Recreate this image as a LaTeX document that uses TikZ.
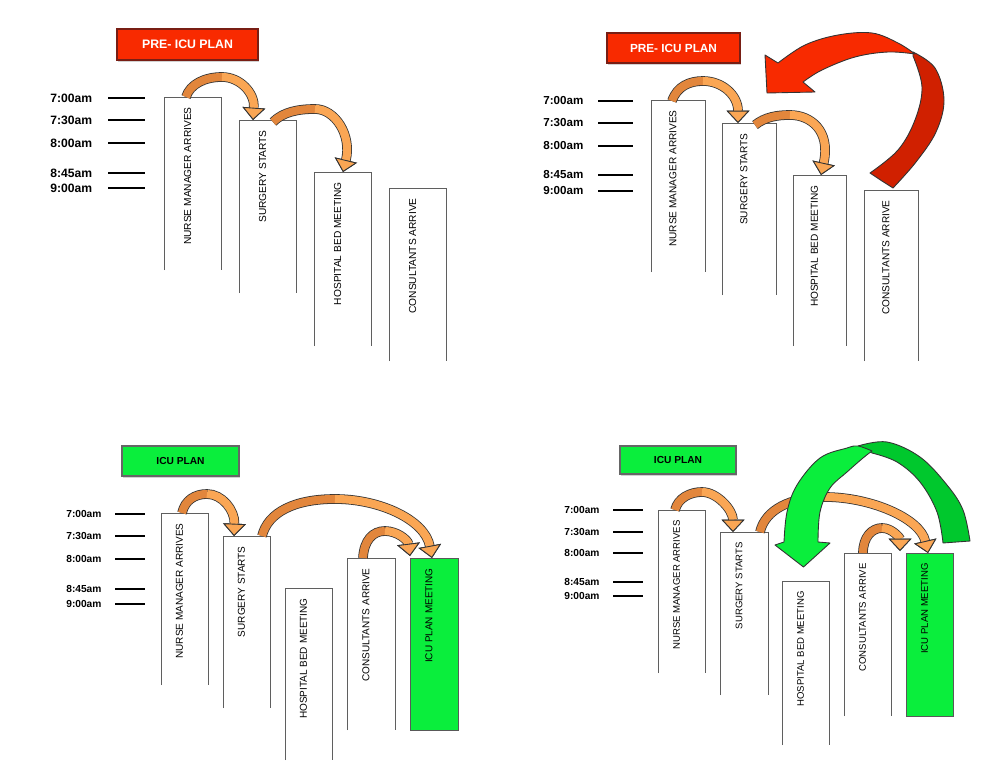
\documentclass[tikz,border=0pt]{standalone}
\usepackage{fontspec}
\setmainfont{Liberation Sans}
\usetikzlibrary{arrows.meta,calc,shadows}
\definecolor{ttred}{RGB}{248,42,0}
\definecolor{ttredborder}{RGB}{120,30,20}
\definecolor{rback}{RGB}{208,32,0}
\definecolor{icugreen}{RGB}{10,238,60}
\definecolor{gback}{RGB}{0,200,45}
\definecolor{oDark}{RGB}{226,134,60}
\definecolor{oLight}{RGB}{250,166,84}
\definecolor{colEdge}{RGB}{95,95,95}

% column: name, x, y, w, h, label
\newcommand\colbox[6]{%
  \node[colnode, minimum width=#4*0.02cm, minimum height=#5*0.02cm, anchor=north west] (#1) at (#2,#3) {};
  \draw[coledge] (#1.south west) -- (#1.north west) -- (#1.north east) -- (#1.south east);
  \node[collbl, rotate=90, anchor=east] (#1-t) at ($(#1.north)+(-5,10)$) {#6};
}
% green column: name, x, y, w, h, label
\newcommand\greenbox[6]{%
  \node[colnode, fill=icugreen, draw=black!65, line width=0.5pt, minimum width=#4*0.02cm, minimum height=#5*0.02cm, anchor=north west] (#1) at (#2,#3) {};
  \node[collbl, rotate=90, anchor=east] (#1-t) at ($(#1.north)+(-5,10)$) {#6};
}
% time mark: name, xlabel, x1, x2, y, text
\newcommand\tmark[6]{%
  \node[tlbl] (#1) at (#2,#5) {#6};
  \draw[tick] (#3,#5) -- (#4,#5);
}
% orange ribbon arrow: S, c1, c2, A, c3, c4, E
\newcommand\oarrow[7]{%
  \draw[oout] #1 .. controls #2 and #3 .. #4 .. controls #5 and #6 .. #7;
  \draw[odk] #1 .. controls #2 and #3 .. #4;
  \draw[olt] #4 .. controls #5 and #6 .. #7;
}

\begin{document}
\begin{tikzpicture}[x=0.02cm, y=-0.02cm,
  colnode/.style={rectangle, inner sep=0pt, outer sep=0pt},
  coledge/.style={draw=colEdge, line width=0.55pt},
  collbl/.style={inner sep=0pt, text=black},
  tlbl/.style={anchor=west, inner sep=0pt, font=\bfseries},
  tick/.style={draw=black, line width=1.1pt},
  titleR/.style={rectangle, fill=ttred, draw=ttredborder, line width=0.8pt, text=white, inner sep=0pt,
     drop shadow={shadow xshift=0.7pt, shadow yshift=-0.9pt, opacity=0.35}},
  titleG/.style={rectangle, fill=icugreen, draw=black!60, line width=0.8pt, text=black, inner sep=0pt,
     drop shadow={shadow xshift=0.7pt, shadow yshift=-0.9pt, opacity=0.35}},
  oout/.style={draw=black!80, line width=5.5pt, -{Triangle[length=7pt,width=13pt,line width=0.5pt]}},
  odk/.style={draw=oDark, line width=4.6pt},
  olt/.style={draw=oLight, line width=4.6pt, -{Triangle[length=7pt,width=13pt,line width=0.5pt,color=black!80,fill=oLight]}},
  rib/.style={draw=black!80, line width=0.5pt, line join=round}
]
\useasboundingbox (0,0) rectangle (997,777);
\fill[white] (0,0) rectangle (997,777);

% ================= PANEL 1 =================
\begin{scope}[collbl/.append style={font=\fontsize{5.8}{6}\selectfont},
              tlbl/.append style={font=\bfseries\fontsize{6.9}{7}\selectfont}]
\node[titleR, minimum width=141*0.02cm, minimum height=31*0.02cm, font=\bfseries\fontsize{7}{8}\selectfont] (p1title) at (187.5,44.5) {PRE- ICU PLAN};
\tmark{p1t1}{50}{108}{145}{98}{7:00am}
\tmark{p1t2}{50}{108}{145}{120}{7:30am}
\tmark{p1t3}{50}{108}{145}{143}{8:00am}
\tmark{p1t4}{50}{108}{145}{173}{8:45am}
\tmark{p1t5}{50}{108}{145}{188}{9:00am}
\colbox{a1}{164}{97}{57}{173}{NURSE MANAGER ARRIVES}
\colbox{a2}{239}{120}{57}{173}{SURGERY STARTS}
\colbox{a3}{314}{172}{57}{174}{HOSPITAL BED MEETING}
\colbox{a4}{389}{188}{57}{173}{CONSULTANTS ARRIVE}
\oarrow{($(a1.north west)+(22,0)$)}{(190,84)}{(205,77)}{(222,77)}{(240,77)}{(255,93)}{($(a2.north west)+(14,0)$)}
\oarrow{($(a2.north west)+(34,2)$)}{(283,112)}{(298,109)}{(315,109)}{(335,109)}{(352,135)}{($(a3.north west)+(29,0)$)}
\end{scope}

% ================= PANEL 2 =================
\begin{scope}[collbl/.append style={font=\fontsize{5.75}{6}\selectfont},
              tlbl/.append style={font=\bfseries\fontsize{6.6}{7}\selectfont}]
\node[titleR, minimum width=133*0.02cm, minimum height=30*0.02cm, font=\bfseries\fontsize{6.7}{8}\selectfont] (p2title) at (673.5,48) {PRE- ICU PLAN};
\tmark{p2t1}{543}{598}{633}{101}{7:00am}
\tmark{p2t2}{543}{598}{633}{123}{7:30am}
\tmark{p2t3}{543}{598}{633}{146}{8:00am}
\tmark{p2t4}{543}{598}{633}{175}{8:45am}
\tmark{p2t5}{543}{598}{633}{191}{9:00am}
\colbox{b1}{651}{100}{54}{172}{NURSE MANAGER ARRIVES}
\colbox{b2}{722}{123}{54}{172}{SURGERY STARTS}
\colbox{b3}{793}{175}{53}{171}{HOSPITAL BED MEETING}
\colbox{b4}{864}{190}{54}{171}{CONSULTANTS ARRIVE}
\oarrow{($(b1.north west)+(21,1)$)}{(677,86)}{(690,81)}{(703,81)}{(722,81)}{(738,95)}{($(b2.north west)+(16,0)$)}
\oarrow{($(b2.north west)+(33,2)$)}{(765,117)}{(777,115)}{(790,115)}{(810,115)}{(831,130)}{($(b3.north west)+(28,0)$)}
% big red ribbon arrow from CONSULTANTS ARRIVE
\coordinate (redbase) at ($(b4.north west)+(18,-9)$);
\filldraw[rib, fill=rback] plot[smooth, tension=0.6] coordinates {(913,52) (935,68) (944,100) (936,132) (916,162) (893,188)}
   -- (redbase) -- plot[smooth, tension=0.6] coordinates {(870,173) (898,150) (915,120) (922,87) (913,56)} -- cycle;
\filldraw[rib, fill=ttred] plot[smooth, tension=0.6] coordinates {(915,54) (898,43) (872,33) (838,35) (805,45) (778,63)}
   -- (765,55) -- (767,93) -- (815,92) -- (803,82)
   -- plot[smooth, tension=0.6] coordinates {(803,82) (822,70) (855,57) (888,52) (915,54)} -- cycle;
\end{scope}

% ================= PANEL 3 =================
\begin{scope}[collbl/.append style={font=\fontsize{5.7}{6}\selectfont},
              tlbl/.append style={font=\bfseries\fontsize{5.8}{6}\selectfont}]
\node[titleG, minimum width=117*0.02cm, minimum height=30*0.02cm, font=\bfseries\fontsize{5.8}{7}\selectfont] (p3title) at (180.5,461) {ICU PLAN};
\tmark{p3t1}{66}{115}{145}{514}{7:00am}
\tmark{p3t2}{66}{115}{145}{536}{7:30am}
\tmark{p3t3}{66}{115}{145}{559}{8:00am}
\tmark{p3t4}{66}{115}{145}{589}{8:45am}
\tmark{p3t5}{66}{115}{145}{604}{9:00am}
\colbox{c1}{161}{513}{47}{172}{NURSE MANAGER ARRIVES}
\colbox{c2}{223}{536}{47}{172}{SURGERY STARTS}
\colbox{c3}{285}{588}{47}{172}{HOSPITAL BED MEETING}
\colbox{c4}{347}{558}{48}{172}{CONSULTANTS ARRIVE}
\greenbox{c5}{410}{558}{48}{172}{ICU PLAN MEETING}
\oarrow{($(c1.north west)+(21,0)$)}{(185,500)}{(195,494)}{(207,494)}{(222,494)}{(235,510)}{($(c2.north west)+(11,0)$)}
\oarrow{($(c2.north west)+(39,0)$)}{(268,512)}{(295,499)}{(335,499)}{(380,499)}{(425,520)}{($(c5.north west)+(22,0)$)}
\oarrow{($(c4.north west)+(16,0)$)}{(364,540)}{(373,531)}{(385,531)}{(397,531)}{(408,540)}{($(c5.north west)+(0,-2)$)}
\end{scope}

% ================= PANEL 4 =================
\begin{scope}[collbl/.append style={font=\fontsize{5.45}{6}\selectfont},
              tlbl/.append style={font=\bfseries\fontsize{5.8}{6}\selectfont}]
\node[titleG, minimum width=116*0.02cm, minimum height=28*0.02cm, font=\bfseries\fontsize{5.8}{7}\selectfont] (p4title) at (678,460) {ICU PLAN};
\tmark{p4t1}{564}{613}{643}{510}{7:00am}
\tmark{p4t2}{564}{613}{643}{532}{7:30am}
\tmark{p4t3}{564}{613}{643}{553}{8:00am}
\tmark{p4t4}{564}{613}{643}{582}{8:45am}
\tmark{p4t5}{564}{613}{643}{596}{9:00am}
\colbox{d1}{658}{510}{47}{163}{NURSE MANAGER ARRIVES}
\colbox{d2}{720}{532}{48}{163}{SURGERY STARTS}
\colbox{d3}{782}{581}{47}{164}{HOSPITAL BED MEETING}
\colbox{d4}{844}{553}{47}{163}{CONSULTANTS ARRIVE}
\greenbox{d5}{906}{553}{47}{163}{ICU PLAN MEETING}
\oarrow{($(d1.north west)+(17,0)$)}{(678,498)}{(690,492)}{(702,492)}{(717,492)}{(733,510)}{($(d2.north west)+(13,0)$)}
\oarrow{($(d2.north west)+(40,0)$)}{(765,510)}{(790,497)}{(825,497)}{(870,497)}{(920,518)}{($(d5.north west)+(22,0)$)}
\oarrow{($(d4.north west)+(19,0)$)}{(863,537)}{(872,528)}{(882,528)}{(892,528)}{(900,538)}{($(d5.north west)+(-6,-2)$)}
% big green ribbon arrow from ICU PLAN MEETING to HOSPITAL BED MEETING
\coordinate (gbase) at ($(d5.north east)+(17,-12)$);
\filldraw[rib, fill=gback] plot[smooth, tension=0.6] coordinates {(858,446) (887,442) (920,457) (947,485) (963,510) (970,541)}
   -- (gbase) -- (943,543) -- plot[smooth, tension=0.6] coordinates {(943,543) (937,512) (920,482) (897,462) (872,453)} -- cycle;
\filldraw[rib, fill=icugreen] plot[smooth, tension=0.6] coordinates {(872,451) (858,446) (847,448) (820,458) (797,485) (787,512) (784,542)}
   -- (775,545) -- ($(d3.north)+(-2,-14)$) -- (830,543) -- (818,542)
   -- plot[smooth, tension=0.6] coordinates {(818,542) (820,512) (830,488) (847,472) (863,458) (872,451)} -- cycle;
\end{scope}
\end{tikzpicture}
\end{document}
